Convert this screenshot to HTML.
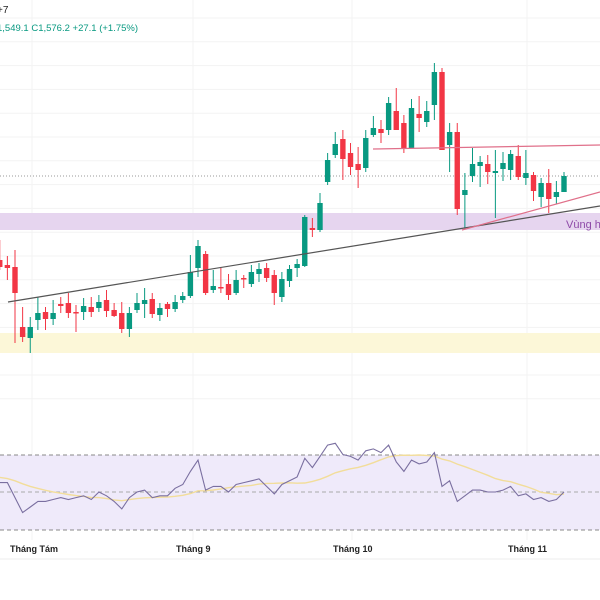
<!DOCTYPE html>
<html><head><meta charset="utf-8"><style>
body{margin:0;background:#fff;font-family:"Liberation Sans","Noto Sans CJK SC",sans-serif}
#c{position:absolute;left:0;top:0}
</style></head><body>
<svg id="c" width="600" height="600" xmlns="http://www.w3.org/2000/svg">
<g id="grid"></g>
<rect x="0" y="213" width="600" height="17" fill="#e6d5ef"/>
<rect x="0" y="333" width="600" height="20" fill="#fcf7d8"/>
<line x1="0" y1="176" x2="600" y2="176" stroke="#9a9a9a" stroke-dasharray="1,2"/>
<g id="candles"></g>
<line x1="8" y1="302" x2="600" y2="206" stroke="#555" stroke-width="1.2"/>
<line x1="462" y1="230" x2="600" y2="192" stroke="#e0708a" stroke-width="1.2"/>
<line x1="373" y1="149" x2="600" y2="145" stroke="#e0708a" stroke-width="1.2"/>
<text x="566" y="228" font-size="11" fill="#8e4aa8">Vùng h</text>
<text x="-3" y="13" font-size="10" fill="#222">+7</text>
<text x="-3" y="31" font-size="9.5" fill="#089981">1,549.1  C1,576.2  +27.1 (+1.75%)</text>
<rect x="0" y="455" width="600" height="75" fill="#efeafa"/>
<line x1="0" y1="455" x2="600" y2="455" stroke="#888" stroke-dasharray="4,3"/>
<line x1="0" y1="492" x2="600" y2="492" stroke="#aaa" stroke-dasharray="4,3"/>
<line x1="0" y1="530" x2="600" y2="530" stroke="#888" stroke-dasharray="4,3"/>
<path id="rsima" fill="none" stroke="#f2dd9a" stroke-width="1.4"/>
<path id="rsi" fill="none" stroke="#7a6fa0" stroke-width="1.1"/>
<line x1="0" y1="559" x2="600" y2="559" stroke="#eee"/>
<g font-size="9" font-weight="bold" fill="#222">
<text x="10" y="552">Tháng Tám</text>
<text x="176" y="552">Tháng 9</text>
<text x="333" y="552">Tháng 10</text>
<text x="508" y="552">Tháng 11</text>
</g>
</svg>
<script>
const opens=[1492,1487,1485,1425,1414,1432,1440,1433,1448,1449,1440,1440,1445,1444,1452,1442,1439,1423,1442,1448,1453,1437,1448,1443,1452,1456,1484,1498,1462,1465,1468,1459,1474,1468,1478,1484,1477,1455,1471,1484,1486,1524,1522,1570,1597,1613,1599,1588,1584,1617,1623,1622,1641,1629,1604,1638,1630,1647,1680,1607,1620,1557,1576,1586,1588,1579,1583,1582,1596,1574,1577,1555,1569,1555,1560];
const highs=[1512,1496,1502,1445,1435,1455,1445,1452,1455,1459,1447,1454,1455,1457,1462,1449,1450,1445,1459,1464,1459,1449,1450,1457,1460,1497,1512,1501,1482,1484,1478,1482,1477,1487,1489,1489,1482,1480,1487,1493,1537,1534,1559,1599,1620,1622,1609,1605,1622,1636,1632,1655,1664,1637,1653,1656,1651,1689,1684,1629,1629,1579,1604,1596,1597,1602,1600,1602,1607,1602,1580,1574,1583,1571,1580];
const lows=[1482,1472,1409,1410,1399,1422,1422,1427,1439,1434,1420,1432,1435,1440,1435,1435,1419,1415,1439,1434,1434,1431,1435,1440,1449,1454,1475,1457,1459,1459,1452,1457,1464,1465,1470,1470,1447,1450,1465,1475,1485,1515,1520,1567,1594,1572,1577,1564,1580,1615,1609,1617,1622,1599,1604,1620,1625,1632,1602,1580,1537,1524,1570,1565,1568,1534,1571,1572,1572,1567,1551,1545,1539,1548,1560];
const closes=[1485,1484,1459,1415,1425,1439,1433,1439,1446,1439,1439,1446,1440,1450,1441,1436,1423,1439,1449,1452,1438,1444,1443,1450,1456,1480,1506,1459,1466,1464,1457,1472,1473,1480,1483,1474,1459,1473,1483,1488,1535,1522,1549,1592,1608,1593,1585,1582,1614,1624,1619,1649,1622,1603,1644,1634,1641,1680,1602,1620,1543,1562,1588,1590,1580,1581,1589,1598,1575,1579,1561,1569,1553,1560,1576];
const rsiValues=[55,55,47,39,42,45,45,46,47,46,47,48,46,50,48,45,41,47,50,51,47,48,48,52,54,61,67,51,53,53,50,54,55,56,57,53,49,54,56,58,68,63,69,75,76,70,69,67,72,73,71,75,66,61,67,65,66,71,53,56,45,48,51,51,50,50,51,53,48,49,46,47,45,46,50];
const rsiMaPrior=[64,63,62,61,60,59,58,57,56,55,54,53,52];
const NS="http://www.w3.org/2000/svg";
const xOf=i=>-0.25+i*7.625;
const yOf=p=>1752-p;
const rY=v=>492-(v-50)*1.875;
const grid=document.getElementById('grid');
for(let y=18;y<=420;y+=23.8){const l=document.createElementNS(NS,'line');l.setAttribute('x1',0);l.setAttribute('x2',600);l.setAttribute('y1',y);l.setAttribute('y2',y);l.setAttribute('stroke','#f3f3f3');

grid.appendChild(l);}
[32,193,352,527].forEach(x=>{const l=document.createElementNS(NS,'line');l.setAttribute('x1',x);l.setAttribute('x2',x);l.setAttribute('y1',0);l.setAttribute('y2',540);l.setAttribute('stroke','#f3f3f3');

grid.appendChild(l);});
const cg=document.getElementById('candles');
opens.forEach((o,i)=>{const c=closes[i],x=xOf(i),up=c>=o,col=up?'#089981':'#f23645';
const w=document.createElementNS(NS,'line');w.setAttribute('x1',x);w.setAttribute('x2',x);w.setAttribute('y1',yOf(highs[i]));w.setAttribute('y2',yOf(lows[i]));w.setAttribute('stroke',col);

cg.appendChild(w);
const r=document.createElementNS(NS,'rect');const t=yOf(Math.max(o,c)),b=yOf(Math.min(o,c));r.setAttribute('x',x-2.7);r.setAttribute('width',5.4);r.setAttribute('y',t);r.setAttribute('height',Math.max(1.5,b-t));r.setAttribute('fill',col);

cg.appendChild(r);});
document.getElementById('rsi').setAttribute('d',rsiValues.map((v,i)=>(i?'L':'M')+xOf(i).toFixed(1)+' '+rY(v).toFixed(1)).join(''));
const all=rsiMaPrior.concat(rsiValues);const ma=[];
for(let i=0;i<rsiValues.length;i++){const k=i+rsiMaPrior.length;let s=0;for(let j=k-13;j<=k;j++)s+=all[j];ma.push(s/14);}
document.getElementById('rsima').setAttribute('d',ma.map((v,i)=>(i?'L':'M')+xOf(i).toFixed(1)+' '+rY(v).toFixed(1)).join(''));
</script>
</body></html>
